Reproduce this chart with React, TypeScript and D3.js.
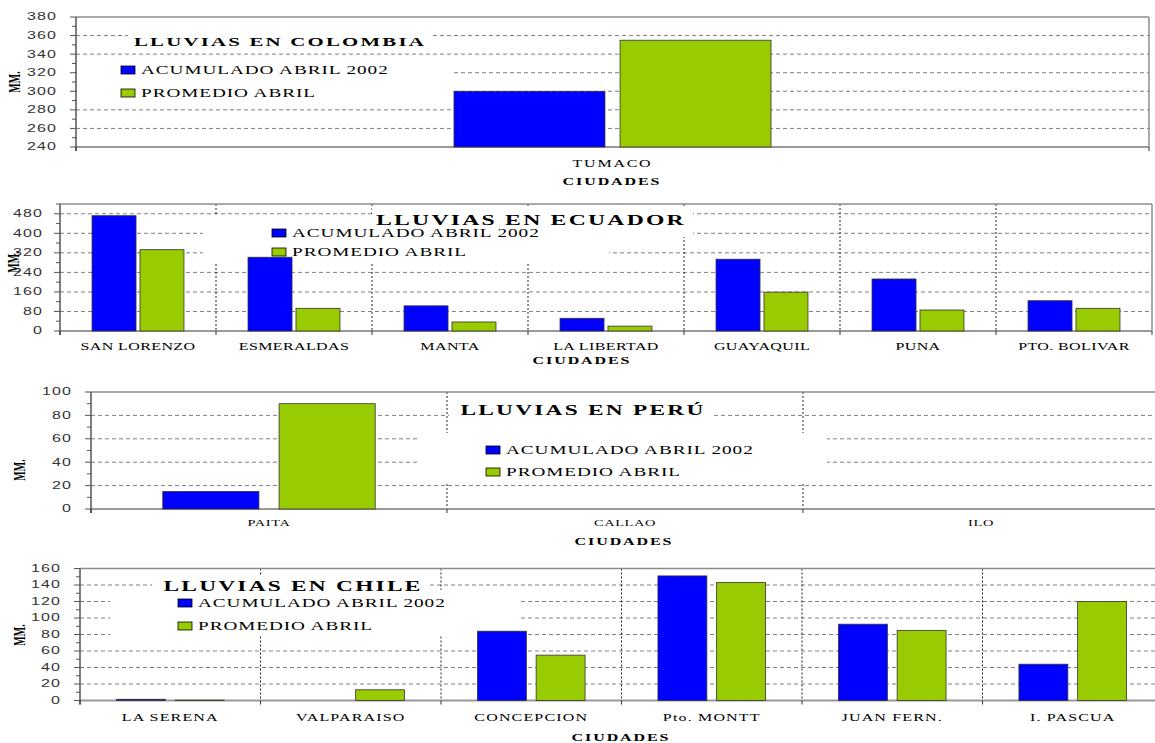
import * as d3 from 'd3';

// ---- data (mm of rain, April 2002 vs April average) ----
const colombiaCities = ['TUMACO'];
const colombiaAcum = [300];
const colombiaProm = [355];
const colombiaTicks = [240, 260, 280, 300, 320, 340, 360, 380];

const ecuadorCities = ['SAN LORENZO', 'ESMERALDAS', 'MANTA', 'LA LIBERTAD', 'GUAYAQUIL', 'PUNA', 'PTO. BOLIVAR'];
const ecuadorAcum = [472, 302, 103, 52, 294, 213, 124];
const ecuadorProm = [333, 93, 37, 20, 159, 86, 93];
const ecuadorTicks = [0, 80, 160, 240, 320, 400, 480];

const peruCities = ['PAITA', 'CALLAO', 'ILO'];
const peruAcum = [15, null, null];
const peruProm = [90, null, null];
const peruTicks = [0, 20, 40, 60, 80, 100];

const chileCities = ['LA SERENA', 'VALPARAISO', 'CONCEPCION', 'Pto. MONTT', 'JUAN FERN.', 'I. PASCUA'];
const chileAcum = [1.5, null, 84, 151, 92.5, 44];
const chileProm = [0.5, 13, 55, 143, 85, 120];
const chileTicks = [0, 20, 40, 60, 80, 100, 120, 140, 160];

const legendLabels = ['ACUMULADO ABRIL 2002', 'PROMEDIO ABRIL'];
const BLUE = '#0000ff';
const GREEN = '#99cc00';

const SERIF = "'Liberation Serif', 'DejaVu Serif', serif";
const SANS = "'Liberation Sans', Arial, sans-serif";
const SX = 1.6; // the original chart is stretched horizontally

function Txt({ x, y, children, size, bold = false, anchor = 'middle', ls = 0, family = SERIF, rotate = 0, fill = '#000' }: any) {
  const t = `translate(${x},${y}) scale(${SX},1)` + (rotate ? ` rotate(${rotate})` : '');
  return (
    <text transform={t} textAnchor={anchor} dominantBaseline="central" fontSize={size}
      fontWeight={bold ? 'bold' : 'normal'} fontFamily={family} letterSpacing={ls} fill={fill}>
      {children}
    </text>
  );
}

function Panel({ p }: any) {
  const x = d3.scaleBand().domain(p.cities).range([p.axisX, p.bandEnd]).padding(0);
  const y = d3.scaleLinear().domain(p.domain).range([p.yBot, p.yTop]);
  const step = p.ticks[1] - p.ticks[0];
  const minor = d3.range(p.domain[0], p.domain[1] + 0.001, step / 2).filter((v) => !p.ticks.includes(v));
  const grid = p.ticks.filter((t: number) => t > p.domain[0] && t < p.domain[1]);
  const bw = x.bandwidth();
  const barW = bw * p.barFrac;
  const gap = barW * p.gapFrac;
  const edges = p.cities.map((c: string) => x(c)).concat([p.bandEnd]);

  return (
    <g>
      {/* grid */}
      {grid.map((t: number) => (
        <line key={'g' + t} x1={p.axisX} x2={p.bandEnd} y1={y(t)} y2={y(t)} stroke="#808080" strokeDasharray="4,3" />
      ))}
      {edges.slice(1, -1).map((e: number, i: number) => (
        <line key={'d' + i} x1={e} x2={e} y1={p.yTop} y2={p.yBot} stroke="#222" strokeDasharray="2,2" />
      ))}
      {/* white boxes behind title and legend */}
      {p.masks.map((m: number[], i: number) => (
        <rect key={'m' + i} x={m[0]} y={m[1]} width={m[2] - m[0]} height={m[3] - m[1]} fill="#fff" />
      ))}
      {/* frame */}
      <line x1={p.axisX} x2={p.bandEnd} y1={p.yTop} y2={p.yTop} stroke="#8c8c8c" strokeWidth={1.5} />
      <line x1={p.bandEnd} x2={p.bandEnd} y1={p.yTop} y2={p.yBot} stroke="#8c8c8c" strokeWidth={1.5} />
      <line x1={p.axisX} x2={p.bandEnd} y1={p.yBot} y2={p.yBot} stroke="#999" strokeWidth={2} />
      <line x1={p.axisX} x2={p.axisX} y1={p.yTop} y2={p.yBot + 4} stroke="#555" strokeWidth={1.5} />
      {edges.map((e: number, i: number) => (
        <line key={'ct' + i} x1={e} x2={e} y1={p.yBot} y2={p.yBot + 4} stroke="#333" />
      ))}
      {/* y ticks */}
      {p.ticks.map((t: number) => (
        <g key={'t' + t}>
          <line x1={p.axisX - 6} x2={p.axisX} y1={y(t)} y2={y(t)} stroke="#555" />
          <Txt x={p.tickLabelX} y={y(t)} size={10} anchor="end" family={SANS} ls={0.7} fill="#333">{t}</Txt>
        </g>
      ))}
      {minor.map((t: number) => (
        <line key={'mn' + t} x1={p.axisX - 4} x2={p.axisX} y1={y(t)} y2={y(t)} stroke="#555" />
      ))}
      {/* bars */}
      {p.cities.map((c: string, i: number) => {
        const cx = (x(c) as number) + bw / 2;
        return (
          <g key={c}>
            {p.acum[i] != null && (
              <rect x={cx - gap / 2 - barW} y={y(p.acum[i])} width={barW} height={p.yBot - y(p.acum[i])}
                fill={BLUE} stroke="#333" strokeWidth={0.8} />
            )}
            {p.prom[i] != null && (
              <rect x={cx + gap / 2} y={y(p.prom[i])} width={barW} height={p.yBot - y(p.prom[i])}
                fill={GREEN} stroke="#333" strokeWidth={0.8} />
            )}
            <Txt x={cx} y={p.catY} size={p.catSize} ls={p.catLs}>{c}</Txt>
          </g>
        );
      })}
      {/* axis titles */}
      <Txt x={p.ciudades[0]} y={p.ciudades[1]} size={10} bold ls={1.2}>CIUDADES</Txt>
      <Txt x={p.mm[0]} y={p.mm[1]} size={10} bold rotate={-90}>MM.</Txt>
      {/* title + legend */}
      <Txt x={p.titleXY[0]} y={p.titleXY[1]} size={p.titleSize} bold ls={1.4}>{p.title}</Txt>
      {[BLUE, GREEN].map((col, i) => {
        const ly = i === 0 ? p.legend.y1 : p.legend.y2;
        return (
          <g key={col}>
            <rect x={p.legend.x} y={ly - 4} width={14} height={8} fill={col} stroke="#000" strokeWidth={0.8} />
            <Txt x={p.legend.x + 20} y={ly} size={12} anchor="start" ls={0.6}>{legendLabels[i]}</Txt>
          </g>
        );
      })}
    </g>
  );
}

const panels = [
  {
    cities: colombiaCities, acum: colombiaAcum, prom: colombiaProm, ticks: colombiaTicks, domain: [240, 380],
    axisX: 76, bandEnd: 1149, yTop: 17, yBot: 147, barFrac: 0.1407, gapFrac: 0.1, tickLabelX: 57,
    mm: [15, 82], catY: 164, catSize: 10, catLs: 1.1, ciudades: [612, 182],
    title: 'LLUVIAS EN COLOMBIA', titleSize: 13, titleXY: [280, 42], legend: { x: 121, y1: 70, y2: 93 },
    masks: [[128, 28, 430, 48], [77, 62, 452, 102]],
  },
  {
    cities: ecuadorCities, acum: ecuadorAcum, prom: ecuadorProm, ticks: ecuadorTicks, domain: [0, 520],
    axisX: 60, bandEnd: 1152, yTop: 204, yBot: 331, barFrac: 0.282, gapFrac: 0.09, tickLabelX: 43,
    mm: [14, 262], catY: 347, catSize: 10, catLs: 0.25, ciudades: [582, 361],
    title: 'LLUVIAS EN ECUADOR', titleSize: 14.8, titleXY: [531, 220], legend: { x: 272, y1: 233, y2: 252 },
    masks: [[372, 206, 693, 237], [203, 216, 609, 262]],
  },
  {
    cities: peruCities, acum: peruAcum, prom: peruProm, ticks: peruTicks, domain: [0, 100],
    axisX: 91, bandEnd: 1159, yTop: 392, yBot: 509, barFrac: 0.27, gapFrac: 0.21, tickLabelX: 72,
    mm: [20, 470], catY: 523, catSize: 9, catLs: 0.4, ciudades: [624, 542],
    title: 'LLUVIAS EN PERÚ', titleSize: 14.6, titleXY: [583, 410], legend: { x: 486, y1: 450, y2: 472 },
    masks: [[449, 396, 713, 433], [417, 433, 827, 482]],
  },
  {
    cities: chileCities, acum: chileAcum, prom: chileProm, ticks: chileTicks, domain: [0, 160],
    axisX: 80, bandEnd: 1163, yTop: 568.5, yBot: 700.5, barFrac: 0.271, gapFrac: 0.2, tickLabelX: 61,
    mm: [20, 635], catY: 718, catSize: 10, catLs: 0.73, ciudades: [621, 738],
    title: 'LLUVIAS EN CHILE', titleSize: 14.6, titleXY: [293, 586], legend: { x: 178, y1: 603, y2: 626 },
    masks: [[152, 575, 430, 597], [110, 590, 518, 636]],
  },
];

export default function App() {
  return (
    <svg width={1155} height={743} style={{ position: 'absolute', left: 0, top: 0, display: 'block', background: '#fff' }}>
      <rect width={1155} height={743} fill="#fff" />
      {panels.map((p) => (
        <Panel key={p.title} p={p} />
      ))}
    </svg>
  );
}
